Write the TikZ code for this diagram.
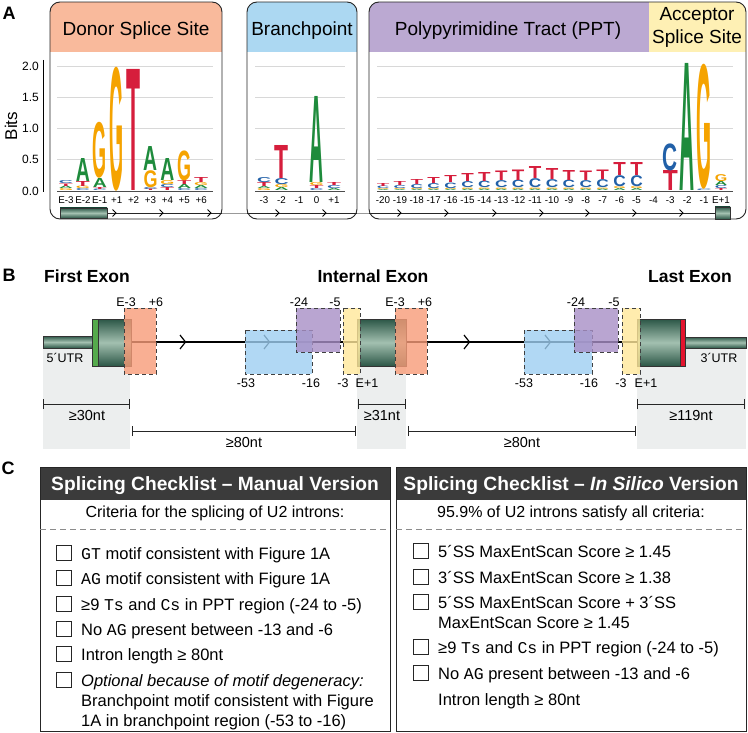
\documentclass[tikz,border=0pt]{standalone}
\usepackage{fontspec}
\setmainfont{Liberation Sans}
\newfontfamily\monofont{Liberation Mono}
\usepackage{graphicx}
\usetikzlibrary{positioning, arrows.meta}

\definecolor{nucA}{HTML}{1E8B3C}
\definecolor{nucC}{HTML}{2160A8}
\definecolor{nucG}{HTML}{F5A300}
\definecolor{nucT}{HTML}{D61E3C}
\definecolor{donorhead}{HTML}{F9BA9C}
\definecolor{branchhead}{HTML}{ACD8F2}
\definecolor{ppthead}{HTML}{BBA9D2}
\definecolor{accepthead}{HTML}{FEF0B4}
\definecolor{donorbox}{HTML}{F89C78}
\definecolor{branchbox}{HTML}{9ECFF2}
\definecolor{pptbox}{HTML}{A88FC6}
\definecolor{acceptbox}{HTML}{FFE89A}
\definecolor{exondark}{HTML}{2C5747}
\definecolor{exonlight}{HTML}{A3C0B0}
\definecolor{capgreen}{HTML}{55AA4C}
\definecolor{stopred}{HTML}{E3142E}
\definecolor{headgrey}{HTML}{3B3B3B}
\definecolor{shadegrey}{HTML}{ECEEEE}
\definecolor{gridgrey}{HTML}{D8D8D8}

\tikzset{
  panel/.style={font=\fontsize{18}{20}\selectfont\bfseries, inner sep=0pt},
  motifbox/.style={rounded corners=10pt, line width=0.9pt, draw=black!85},
  boxtitle/.style={font=\fontsize{19}{22}\selectfont, anchor=base, inner sep=0pt},
  poslabel/.style={font=\fontsize{9.8}{12}\selectfont, inner sep=0pt},
  gridline/.style={gridgrey, line width=0.8pt},
  baseline/.style={black!70, line width=1pt},
  chevron/.style={line width=0.8pt},
  regionbox/.style={draw=black!75, dash pattern=on 4pt off 3pt, line width=1pt, fill opacity=0.8},
  exonbody/.style={draw=black!80, line width=0.5pt, top color=exondark, bottom color=exondark, middle color=exonlight},
  sitelabel/.style={font=\fontsize{12.5}{14}\selectfont, inner sep=0pt},
  exontitle/.style={font=\fontsize{17.5}{20}\selectfont\bfseries, anchor=base, inner sep=0pt},
  dimline/.style={{Bar[width=10pt]}-{Bar[width=10pt]}, line width=1pt, black!85},
  dimlabel/.style={font=\fontsize{14.5}{16}\selectfont, inner sep=0pt},
  listframe/.style={draw=black!85, line width=1pt},
  listhead/.style={font=\fontsize{19.2}{22}\selectfont\bfseries, text=white, anchor=base, inner sep=0pt},
  listsub/.style={font=\fontsize{16}{19}\selectfont, anchor=base, inner sep=0pt},
  listtext/.style={font=\fontsize{16.5}{19}\selectfont, anchor=base west, inner sep=0pt},
  sepline/.style={black!45, dash pattern=on 6pt off 4pt, line width=0.8pt},
  tickbox/.style={draw=black!85, line width=0.9pt, minimum size=15pt, inner sep=0pt},
}

\newlength{\letterw}
\setlength{\letterw}{14pt}
\newcommand{\logocol}[2]{% x position, then letter/height pairs from bottom to top
  \xdef\stacky{191}%
  \foreach \nuc/\hgt in {#2}{%
    \edef\nuccol{nuc\nuc}%
    \node[anchor=south, inner sep=0pt, text=\nuccol] at (#1,\stacky) {\resizebox*{\letterw}{\hgt pt}{\bfseries\nuc}};
    \pgfmathsetmacro\newy{\stacky-\hgt}\xdef\stacky{\newy}%
  }}

\begin{document}
\begin{tikzpicture}[x=1pt, y=-1pt]
  \fill[white] (0,0) rectangle (748,733);
  \useasboundingbox (0,0) rectangle (748,733);

  % ---------------- panel A ----------------
  \node[panel] (labA) at (9,13) {A};

  % header fills of the three motif boxes
  \begin{scope}
    \clip[rounded corners=10pt] (50,2) rectangle (222,219);
    \fill[donorhead] (50,2) rectangle (222,52);
  \end{scope}
  \begin{scope}
    \clip[rounded corners=10pt] (247,2) rectangle (357,219);
    \fill[branchhead] (247,2) rectangle (357,52);
  \end{scope}
  \begin{scope}
    \clip[rounded corners=10pt] (369,2) rectangle (746,219);
    \fill[ppthead] (369,2) rectangle (649,52);
    \fill[accepthead] (649,2) rectangle (746,52);
  \end{scope}
  \draw[motifbox] (50,2) rectangle (222,219); % donor box
  \draw[motifbox] (247,2) rectangle (357,219); % branchpoint box
  \draw[motifbox] (369,2) rectangle (746,219); % PPT + acceptor box

  \node[boxtitle] (donortitle) at (136,36) {Donor Splice Site};
  \node[boxtitle] (branchtitle) at (302,36) {Branchpoint};
  \node[boxtitle] (ppttitle) at (508,36) {Polypyrimidine Tract (PPT)};
  \node[boxtitle] (accepttitle) at (697,21) {Acceptor};
  \node[boxtitle] (accepttitle2) at (697,44) {Splice Site};

  % grid lines
  \foreach \g in {66,97.25,128.5,159.75}{
    \draw[gridline] (57,\g) -- (213,\g);
    \draw[gridline] (255,\g) -- (345,\g);
    \draw[gridline] (377,\g) -- (733,\g);
  }

  % bits axis
  \draw[line width=1pt] (43,60) -- (43,192);
  \node[font=\fontsize{17}{19}\selectfont, rotate=90, inner sep=0pt] (bitslabel) at (11,126) {Bits};
  \foreach \v/\g in {2.0/66,1.5/97.25,1.0/128.5,0.5/159.75,0.0/191}
    \node[font=\fontsize{12}{14}\selectfont, anchor=east, inner sep=0pt] (tick\g) at (39,\g) {\v};

  % donor logo
  \setlength{\letterw}{14pt}
  \logocol{66}{G/2,A/2.5,T/2.5,C/3}
  \logocol{82.9}{C/2,G/2.5,T/5,A/23}
  \logocol{99.8}{C/1.5,T/2,A/9,G/56}
  \logocol{116.7}{G/124}
  \logocol{133.6}{T/121}
  \logocol{150.5}{T/1.5,C/2,G/17,A/24}
  \logocol{167.4}{T/3,C/3,G/4,A/22}
  \logocol{184.3}{C/2,A/4,T/4,G/30}
  \logocol{201.2}{C/2,A/3,G/3,T/5}
  \draw[baseline] (57,191.5) -- (213,191.5);
  \foreach \lab [count=\i from 0] in {E-3,E-2,E-1,+1,+2,+3,+4,+5,+6}
    \node[poslabel] (donpos\i) at (66+16.9*\i,200) {\lab};

  % branchpoint logo
  \logocol{264}{G/2,A/2,T/4,C/5}
  \logocol{281.5}{A/3,G/3,C/6,T/33}
  \logocol{316.5}{C/2,T/3,G/3,A/86}
  \logocol{334}{A/2,C/3,T/3}
  \draw[baseline] (255,191.5) -- (345,191.5);
  \foreach \lab [count=\i from 0] in {-3,-2,-1,0,+1}
    \node[poslabel] (brpos\i) at (264+17.5*\i,200) {\lab};

  % PPT and acceptor logo
  \setlength{\letterw}{12.5pt}
  \foreach \i/\tval/\cval/\oval in {0/3/2.5/2,1/4/3/2,2/5/4/2.5,3/6/5/2.5,4/7/5.5/2.5,
      5/8/6/3,6/9/6.5/3,7/9.5/7/3,8/10.5/7.5/3,9/12/9/3,10/11/8/3,11/10/7.5/3,
      12/9.5/7/3,13/9.5/8/3,14/13/11/4,15/13/11/4}{
    \pgfmathsetmacro\xp{383+16.9*\i}
    \pgfmathsetmacro\oa{\oval/2}
    \logocol{\xp}{A/\oa,G/\oa,C/\cval,T/\tval}
  }
  \setlength{\letterw}{15pt}
  \logocol{670.3}{T/20,C/27}
  \logocol{687.2}{A/127}
  \logocol{704.1}{C/1.5,G/125}
  \setlength{\letterw}{12.5pt}
  \logocol{721}{T/2,C/3,A/4,G/7}
  \draw[baseline] (377,191.5) -- (733,191.5);
  \foreach \lab [count=\i from 0] in {-20,-19,-18,-17,-16,-15,-14,-13,-12,-11,-10,-9,-8,-7,-6,-5,-4,-3,-2,-1,E+1}
    \node[poslabel] (pptpos\i) at (383+16.9*\i,200) {\lab};

  % transcript strip under the logos
  \coordinate (trstart) at (107,213);
  \coordinate (trend) at (715,213);
  \draw[black!40, line width=0.8pt] (trstart) -- (trend);
  \draw[black!85, line width=0.8pt] (107,213) -- (222,213);
  \draw[black!85, line width=0.8pt] (247,213) -- (357,213);
  \draw[black!85, line width=0.8pt] (369,213) -- (715,213);
  \foreach \c in {115,162,210,278,325,400,447,495,542,588,635,682}
    \draw[chevron] (\c-2.5,209.5) -- (\c+1,213) -- (\c-2.5,216.5);
  \draw[exonbody] (60,208) rectangle (107,218); % donor exon
  \draw[exonbody] (715,207) rectangle (730,219); % acceptor exon

  % ---------------- panel B ----------------
  \node[panel] (labB) at (9,275) {B};
  \node[exontitle] (firstexon) at (87,283) {First Exon};
  \node[exontitle] (internalexon) at (373,283) {Internal Exon};
  \node[exontitle] (lastexon) at (690,283) {Last Exon};

  % grey shading under the exons
  \fill[shadegrey] (43,342) rectangle (130,449);
  \fill[shadegrey] (357,342) rectangle (406,449);
  \fill[shadegrey] (637,342) rectangle (746,449);

  \draw[line width=1.6pt] (130,342) -- (637,342); % intron backbone
  \foreach \c in {183,267,467,548}
    \draw[line width=1.2pt] (\c-3,335) -- (\c+2.5,342) -- (\c-3,349);

  % first exon
  \draw[exonbody] (43,336) rectangle (92,348); % 5'UTR
  \draw[draw=black!80, line width=0.5pt, fill=capgreen] (92,319) rectangle (98,366);
  \draw[exonbody] (98,319) rectangle (131,366);
  % internal exon
  \draw[exonbody] (357,319) rectangle (406,366);
  % last exon
  \draw[exonbody] (637,319) rectangle (680,366);
  \draw[draw=black!80, line width=0.5pt, fill=stopred] (680,319) rectangle (685,366);
  \draw[exonbody] (685,337) rectangle (746,348); % 3'UTR

  % motif regions, first intron
  \draw[regionbox, fill=donorbox] (124,308) rectangle (156,374);
  \draw[regionbox, fill=branchbox] (245,330) rectangle (312,374);
  \draw[regionbox, fill=pptbox] (296,308) rectangle (340,352);
  \draw[regionbox, fill=acceptbox] (343,308) rectangle (360,374);
  % motif regions, second intron
  \draw[regionbox, fill=donorbox] (395,308) rectangle (427,374);
  \draw[regionbox, fill=branchbox] (524,330) rectangle (592,374);
  \draw[regionbox, fill=pptbox] (574,308) rectangle (618,352);
  \draw[regionbox, fill=acceptbox] (622,308) rectangle (640,374);

  \node[sitelabel] (ds1a) at (126,302) {E-3};
  \node[sitelabel] (ds1b) at (156,302) {+6};
  \node[sitelabel] (pp1a) at (299,302) {-24};
  \node[sitelabel] (pp1b) at (335,302) {-5};
  \node[sitelabel] (bp1a) at (246,383) {-53};
  \node[sitelabel] (bp1b) at (311,383) {-16};
  \node[sitelabel] (as1a) at (343,383) {-3};
  \node[sitelabel] (as1b) at (367,383) {E+1};
  \node[sitelabel] (ds2a) at (395,302) {E-3};
  \node[sitelabel] (ds2b) at (425,302) {+6};
  \node[sitelabel] (pp2a) at (576,302) {-24};
  \node[sitelabel] (pp2b) at (614,302) {-5};
  \node[sitelabel] (bp2a) at (524,383) {-53};
  \node[sitelabel] (bp2b) at (589,383) {-16};
  \node[sitelabel] (as2a) at (621,383) {-3};
  \node[sitelabel] (as2b) at (646,383) {E+1};
  \node[sitelabel] (utr5) at (65,358) {5´UTR};
  \node[sitelabel] (utr3) at (719,358) {3´UTR};

  % length constraints
  \coordinate (d1a) at (43,404);   \coordinate (d1b) at (130,404);
  \coordinate (d2a) at (132,431);  \coordinate (d2b) at (356,431);
  \coordinate (d3a) at (358,404);  \coordinate (d3b) at (406,404);
  \coordinate (d4a) at (408,431);  \coordinate (d4b) at (636,431);
  \coordinate (d5a) at (637,404);  \coordinate (d5b) at (745,404);
  \draw[dimline] (d1a) -- (d1b);
  \draw[dimline] (d2a) -- (d2b);
  \draw[dimline] (d3a) -- (d3b);
  \draw[dimline] (d4a) -- (d4b);
  \draw[dimline] (d5a) -- (d5b);
  \node[dimlabel] (len30) at (87,416) {≥30nt};
  \node[dimlabel] (len80a) at (244,443) {≥80nt};
  \node[dimlabel] (len31) at (382,416) {≥31nt};
  \node[dimlabel] (len80b) at (522,443) {≥80nt};
  \node[dimlabel] (len119) at (691,416) {≥119nt};

  % ---------------- panel C ----------------
  \node[panel] (labC) at (8,468) {C};
  \fill[headgrey] (40,467) rectangle (390,500);
  \fill[headgrey] (396,467) rectangle (746,500);
  \draw[listframe] (40,467) rectangle (390,731);
  \draw[listframe] (396,467) rectangle (746,731);
  \node[listhead] (manhead) at (215,490) {Splicing Checklist – Manual Version};
  \node[listhead] (silhead) at (571,490) {Splicing Checklist – \textit{In Silico} Version};
  \node[listsub] (mansub) at (215,517) {Criteria for the splicing of U2 introns:};
  \node[listsub] (silsub) at (571,517) {95.9\% of U2 introns satisfy all criteria:};
  \draw[sepline] (40,529) -- (390,529);
  \draw[sepline] (396,529) -- (746,529);

  % manual checklist
  \foreach \y [count=\i] in {553,578,604,629,654,680}
    \node[tickbox] (mbox\i) at (64,\y) {};
  \node[listtext] (mrow1) at (81,559) {{\monofont GT} motif consistent with Figure 1A};
  \node[listtext] (mrow2) at (81,584) {{\monofont AG} motif consistent with Figure 1A};
  \node[listtext] (mrow3) at (81,610) {≥9 {\monofont Ts} and {\monofont Cs} in PPT region (-24 to -5)};
  \node[listtext] (mrow4) at (81,635) {No {\monofont AG} present between -13 and -6};
  \node[listtext] (mrow5) at (81,660) {Intron length ≥ 80nt};
  \node[listtext] (mrow6) at (81,686) {\textit{Optional because of motif degeneracy:}};
  \node[listtext] (mrow6b) at (81,706) {Branchpoint motif consistent with Figure};
  \node[listtext] (mrow6c) at (81,726) {1A in branchpoint region (-53 to -16)};

  % in silico checklist
  \foreach \y [count=\i] in {551,577,602,647,673}
    \node[tickbox] (sbox\i) at (421,\y) {};
  \node[listtext] (srow1) at (438,557) {5´SS MaxEntScan Score ≥ 1.45};
  \node[listtext] (srow2) at (438,583) {3´SS MaxEntScan Score ≥ 1.38};
  \node[listtext] (srow3) at (438,608) {5´SS MaxEntScan Score + 3´SS};
  \node[listtext] (srow3b) at (438,628) {MaxEntScan Score ≥ 1.45};
  \node[listtext] (srow4) at (438,653) {≥9 {\monofont Ts} and {\monofont Cs} in PPT region (-24 to -5)};
  \node[listtext] (srow5) at (438,679) {No {\monofont AG} present between -13 and -6};
  \node[listtext] (srow6) at (438,705) {Intron length ≥ 80nt};
\end{tikzpicture}
\end{document}
